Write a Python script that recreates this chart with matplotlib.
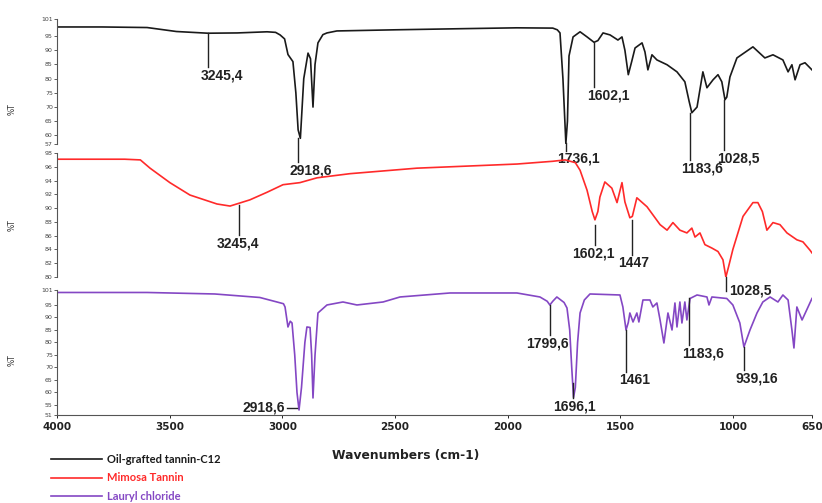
import matplotlib.pyplot as plt

# FTIR spectra (wavenumber in cm-1, transmittance in %T)
black_wn = [4000, 3800, 3600, 3470, 3330, 3200, 3068, 3030, 3010, 2990, 2975, 2953, 2940, 2930, 2920,
            2905, 2886, 2875, 2864, 2855, 2842, 2820, 2802, 2758, 2500, 2200, 1960, 1800, 1780, 1768,
            1755, 1742, 1735, 1728, 1710, 1679, 1648, 1617, 1600, 1577, 1546, 1511, 1493, 1480, 1465,
            1450, 1435, 1404, 1391, 1378, 1360, 1338, 1293, 1249, 1214, 1195, 1183, 1160, 1134, 1116,
            1089, 1067, 1050, 1036, 1028, 1014, 983, 912, 859, 823, 779, 756, 739, 725, 703, 681, 650]
black_t = [98.2, 98.2, 98.0, 96.6, 96.0, 96.1, 96.5, 96.3, 95.4, 94.0, 88.5, 86.0, 75.0, 62.0, 59.0,
           80.0, 89.0, 87.0, 70.0, 85.0, 92.6, 95.5, 96.1, 96.8, 97.2, 97.6, 97.9, 97.8, 97.2, 96.1,
           80.0, 57.2, 65.0, 88.0, 94.7, 96.5, 94.7, 92.8, 93.4, 96.1, 95.4, 93.6, 94.7, 90.0, 81.4,
           86.0, 90.8, 92.6, 89.4, 83.1, 88.4, 86.6, 84.9, 82.4, 78.9, 72.0, 68.0, 70.0, 82.4, 76.8,
           79.6, 81.4, 78.9, 72.6, 73.5, 80.6, 87.3, 91.2, 87.3, 88.4, 86.6, 82.4, 84.9, 79.6, 84.9, 85.6, 83.1]

red_wn = [4000, 3700, 3630, 3587, 3499, 3410, 3290, 3232, 3144, 3068, 2997, 2922, 2846, 2700, 2403,
          1959, 1800, 1745, 1700, 1679, 1648, 1625, 1613, 1600, 1591, 1569, 1538, 1515, 1493, 1480,
          1458, 1447, 1427, 1382, 1324, 1293, 1267, 1236, 1205, 1183, 1169, 1147, 1125, 1094, 1067,
          1045, 1032, 1020, 1001, 956, 912, 890, 870, 850, 823, 792, 761, 717, 690, 659, 650]
red_t = [97.1, 97.1, 97.0, 95.8, 93.7, 91.9, 90.6, 90.3, 91.2, 92.3, 93.4, 93.7, 94.4, 95.0, 95.8,
         96.4, 96.8, 97.0, 96.6, 95.5, 92.6, 89.5, 88.3, 89.5, 91.6, 93.8, 92.9, 90.8, 93.7, 90.9,
         88.6, 88.8, 91.5, 90.2, 87.6, 86.8, 87.9, 86.8, 86.4, 87.1, 85.8, 86.4, 84.7, 84.2, 83.7,
         82.5, 80.0, 81.5, 84.0, 88.8, 90.8, 90.8, 89.5, 86.8, 87.9, 87.6, 86.4, 85.4, 85.1, 83.9, 83.5]

purple_wn = [4000, 3600, 3300, 3100, 3024, 2995, 2988, 2975, 2965, 2957, 2945, 2935, 2926, 2915, 2900,
             2891, 2877, 2870, 2864, 2855, 2842, 2802, 2731, 2669, 2553, 2478, 2256, 1959, 1857, 1825,
             1813, 1800, 1782, 1750, 1737, 1725, 1716, 1708, 1700, 1690, 1679, 1660, 1635, 1502, 1489,
             1475, 1465, 1458, 1444, 1427, 1418, 1400, 1369, 1356, 1338, 1324, 1307, 1289, 1271, 1258,
             1249, 1236, 1227, 1214, 1205, 1191, 1160, 1116, 1107, 1094, 1028, 1001, 970, 952, 925,
             894, 868, 836, 801, 779, 756, 739, 730, 717, 694, 650]
purple_t = [100.0, 100.0, 99.4, 98.0, 96.2, 95.5, 94.2, 86.2, 88.5, 87.8, 75.0, 60.0, 53.0, 62.0, 80.0,
            86.2, 86.0, 75.0, 57.8, 75.0, 91.8, 95.0, 96.2, 95.0, 96.2, 98.2, 99.8, 99.8, 98.2, 96.5,
            95.0, 96.5, 98.2, 96.0, 93.8, 85.0, 70.0, 58.0, 62.0, 80.0, 91.8, 97.0, 99.4, 99.0, 94.2,
            85.0, 88.0, 91.8, 88.2, 91.8, 88.2, 97.0, 97.0, 94.2, 95.8, 89.0, 79.8, 91.8, 85.0, 95.8,
            86.2, 96.2, 87.8, 96.2, 89.0, 97.6, 99.0, 98.2, 95.0, 98.2, 97.6, 95.0, 87.8, 78.2, 85.0,
            91.8, 96.2, 98.2, 96.2, 99.0, 97.0, 85.0, 77.8, 94.2, 89.0, 97.6]

series_names = ["Oil-grafted tannin-C12", "Mimosa Tannin", "Lauryl chloride"]
colors = ["#1a1a1a", "#ff2a2a", "#8447c4"]

x_ticks = [4000, 3500, 3000, 2500, 2000, 1500, 1000, 650]
top_ticks = [57, 60, 65, 70, 75, 80, 85, 90, 95, 101]
mid_ticks = [80, 82, 84, 86, 88, 90, 92, 94, 96, 98]
bot_ticks = [51, 55, 60, 65, 70, 75, 80, 85, 90, 95, 101]

# peak labels: (text, line x, line top, line bottom, text x offset in pt)
top_peaks = [("3245,4", 3330, 96.1, 84.2, 10), ("2918,6", 2931, 59.2, 50.8, 9),
             ("1736,1", 1742, 57.2, 54.7, 9), ("1602,1", 1617, 92.6, 77.1, 10),
             ("1183,6", 1191, 68.0, 51.5, 9), ("1028,5", 1040, 72.6, 55.0, 10)]
mid_peaks = [("3245,4", 3192, 90.5, 86.1, -1), ("1602,1", 1613, 87.6, 84.7, -1),
             ("1447", 1449, 88.3, 83.2, 1)]
bot_peaks = [("1799,6", 1813, 95.0, 83.0, -2), ("1696,1", 1710, 63.8, 57.8, 1),
             ("1461", 1475, 85.0, 68.2, 6), ("1183,6", 1196, 97.8, 79.0, 10),
             ("939,16", 952, 78.2, 69.0, 9)]

label_font = dict(family="Liberation Sans", fontweight="bold", fontsize=10)

fig = plt.figure(figsize=(8.22, 5.03), dpi=100)
ax1 = fig.add_axes([0.0693, 0.7137, 0.9185, 0.2485])
ax2 = fig.add_axes([0.0693, 0.4493, 0.9185, 0.2465])
ax3 = fig.add_axes([0.0693, 0.1750, 0.9185, 0.2485])

l1, = ax1.plot(black_wn, black_t, color=colors[0], lw=1.2)
l2, = ax2.plot(red_wn, red_t, color=colors[1], lw=1.2)
l3, = ax3.plot(purple_wn, purple_t, color=colors[2], lw=1.2)

for ax, ticks, ylab_y in [(ax1, top_ticks, 0.28), (ax2, mid_ticks, 0.42), (ax3, bot_ticks, 0.44)]:
    ax.patch.set_visible(False)
    ax.set_xlim(4000, 650)
    ax.set_ylim(ticks[0], ticks[-1])
    ax.set_yticks(ticks)
    ax.tick_params(axis="y", labelsize=4.5, length=2, width=0.6, pad=1, colors="#444444")
    for s in ["top", "right"]:
        ax.spines[s].set_visible(False)
    ax.spines["left"].set_color("#555555")
    ax.spines["left"].set_linewidth(0.8)
    ax.set_ylabel("%T", fontsize=5.5, color="#333333")
    ax.yaxis.set_label_coords(-0.053, ylab_y)

for ax in (ax1, ax2):
    ax.spines["bottom"].set_visible(False)
    ax.set_xticks([])

ax3.set_xticks(x_ticks)
ax3.set_xticklabels([str(t) for t in x_ticks], fontsize=7.5, fontweight="bold", color="#222222")
ax3.tick_params(axis="x", length=2, width=0.6, pad=3)
ax3.spines["bottom"].set_color("#555555")


def mark_peaks(ax, peaks):
    for text, x, y0, y1, dx in peaks:
        ax.plot([x, x], [y0, y1], color="#222222", lw=1.0, clip_on=False)
        ax.annotate(text, xy=(x, y1), xytext=(dx, -1), textcoords="offset points",
                    ha="center", va="top", color="#222222", annotation_clip=False, **label_font)


mark_peaks(ax1, top_peaks)
mark_peaks(ax2, mid_peaks)
mark_peaks(ax3, bot_peaks)

# bracket-style label on the red spectrum
ax2.plot([1032, 1032], [80.0, 78.0], color="#222222", lw=1.0, clip_on=False)
ax2.annotate("1028,5", xy=(1032, 78.0), xytext=(2, 0), textcoords="offset points",
             ha="left", va="center", color="#222222", annotation_clip=False, **label_font)

# side label for the C-H stretch on lauryl chloride
ax3.plot([2980, 2935], [53.8, 53.8], color="#222222", lw=1.0, clip_on=False)
ax3.annotate("2918,6", xy=(2980, 53.8), xytext=(-1, 0), textcoords="offset points",
             ha="right", va="center", color="#222222", annotation_clip=False, **label_font)

fig.text(0.493, 0.095, "Wavenumbers (cm-1)", ha="center", va="center",
         fontsize=8.8, fontweight="bold", color="#222222")

fig.legend([l1, l2, l3], series_names, loc="upper left", bbox_to_anchor=(0.062, 0.097),
           frameon=False, handlelength=4.6, handletextpad=0.45,
           labelspacing=0.65, borderpad=0, borderaxespad=0, labelcolor="linecolor",
           prop={"family": "Lato", "weight": "bold", "size": 8})

fig.savefig("out.png", dpi=100)
